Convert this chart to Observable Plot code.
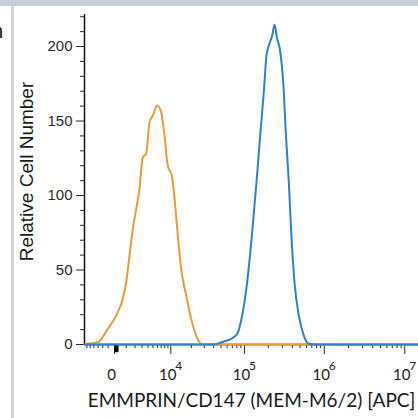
<!DOCTYPE html>
<html><head><meta charset="utf-8">
<script src="https://cdn.jsdelivr.net/npm/d3@7"></script>
<script src="https://cdn.jsdelivr.net/npm/@observablehq/plot@0.6"></script>
<style>
body{margin:0;background:#fff;}
#wrap{position:relative;width:418px;height:418px;overflow:hidden;}
#top{position:absolute;left:0;top:0;width:418px;height:6px;background:#c8cdd8;}
#side{position:absolute;left:11px;top:6px;width:3px;height:412px;background:#d3d3d3;}
#frag{position:absolute;left:-8px;top:20px;font:20px "Liberation Sans",sans-serif;color:#111;}
</style></head><body>
<div id="wrap"><div id="chart"></div><div id="top"></div><div id="side"></div><div id="frag">n</div></div>
<script>
// Control (unstained / isotype) histogram, orange
const controlX = [-3390, -2862, -1528, -527, 124, 670, 992, 1338, 1717, 2147, 2606, 3112, 3685, 4296, 4967, 5968, 6993, 7932, 8963, 10353, 11660, 12755, 14312, 16893, 19863, 23300, 27275, 31850, 14800000];
const controlCount = [0, 0.5, 1.5, 10.5, 19.5, 30.7, 41.8, 59.7, 77.6, 91, 104.5, 125.7, 128, 149.2, 153.7, 160.4, 156, 140.3, 120, 113.4, 93.3, 73.2, 50.8, 32.9, 17.2, 6, 0.5, 0, 0];
// EMMPRIN/CD147 stained histogram, blue
const stainedX = [-3390, 26675, 40150, 54275, 69675, 80775, 93550, 108250, 125250, 142000, 159500, 175500, 189750, 203000, 224000, 239250, 258750, 278750, 307500, 331250, 361250, 387250, 425500, 481500, 556000, 641500, 777500, 1194000, 14800000];
const stainedCount = [0, 0, 0, 2, 4.2, 7.2, 19.5, 41.8, 75.4, 109, 142.5, 169.3, 194, 200.7, 207.4, 214.6, 205, 198.5, 176, 142.5, 109, 75.4, 41.8, 19.5, 6, 0.5, 0, 0, 0];

const xDomain = [-3390, 14800000];
const yDomain = [0, 221.5];
const xMajorTicks = [0, 1e4, 1e5, 1e6, 1e7];
const xMajorBase = ["0", "10", "10", "10", "10"];
const xMajorExp = ["", "4", "5", "6", "7"];
const xMinorTicks = [-3000, -2500, -2000, -1500, -1000, -500,
  1000, 2000, 3000, 4000, 5000, 6000, 7000, 8000, 9000,
  2e4, 3e4, 4e4, 5e4, 6e4, 7e4, 8e4, 9e4,
  2e5, 3e5, 4e5, 5e5, 6e5, 7e5, 8e5, 9e5,
  2e6, 3e6, 4e6, 5e6, 6e6, 7e6, 8e6, 9e6];
const yMajorTicks = [0, 50, 100, 150, 200];
const yMinorTicks = [10, 20, 30, 40, 60, 70, 80, 90, 110, 120, 130, 140, 160, 170, 180, 190, 210, 220];
const xTitle = "EMMPRIN/CD147 (MEM-M6/2) [APC]";
const yTitle = "Relative Cell Number";

const control = controlX.map((x, i) => ({x, y: controlCount[i]}));
const stained = stainedX.map((x, i) => ({x, y: stainedCount[i]}));

const humanist = "Lato, 'Open Sans', sans-serif";
const arial = "'Liberation Sans', Arial, sans-serif";

const chart = Plot.plot({
  width: 418,
  height: 418,
  marginLeft: 84,
  marginRight: 0,
  marginTop: 14,
  marginBottom: 74,
  style: {fontFamily: arial, fontSize: "15px", color: "#2a2a2a", background: "transparent"},
  x: {type: "symlog", constant: 2500, domain: xDomain, axis: null},
  y: {domain: yDomain, axis: null},
  marks: [
    Plot.axisY(yMajorTicks, {tickSize: 8, tickPadding: 4, label: null, fontSize: 15}),
    Plot.axisY(yMinorTicks, {tickSize: 4, tickFormat: () => "", label: null}),
    Plot.ruleX([xDomain[0]], {y1: yDomain[0], y2: yDomain[1], stroke: "#111", strokeWidth: 1.5}),
    Plot.axisX(xMajorTicks, {tickSize: 10, tickFormat: () => "", label: null}),
    Plot.axisX(xMinorTicks, {tickSize: 4, tickFormat: () => "", label: null}),
    Plot.ruleY([0], {stroke: "#111", strokeWidth: 1.5}),
    Plot.ruleX([150], {y1: -0.7, y2: -5.5, stroke: "#000", strokeWidth: 4}),
    Plot.text(xMajorTicks, {x: d => d, text: xMajorBase, frameAnchor: "bottom", dy: 35, dx: -3, fontSize: 15, fontFamily: humanist, fill: "#222"}),
    Plot.text(xMajorTicks, {x: d => d, text: xMajorExp, frameAnchor: "bottom", dy: 25, dx: 8, fontSize: 12, fontFamily: humanist, fill: "#222"}),
    Plot.text([xTitle], {frameAnchor: "bottom", dy: 62, fontSize: 19, fontFamily: humanist, fill: "#1a1a1a"}),
    Plot.text([yTitle], {frameAnchor: "left", textAnchor: "middle", dx: -58, dy: -8, rotate: -90, fontSize: 19, fontFamily: arial, fill: "#1a1a1a"}),
    Plot.line(control, {x: "x", y: "y", stroke: "#e89a3c", strokeWidth: 2, curve: "monotone-x"}),
    Plot.line(stained, {x: "x", y: "y", stroke: "#2c82cc", strokeWidth: 2, curve: "monotone-x"})
  ]
});
document.getElementById("chart").appendChild(chart);
</script>
</body></html>
